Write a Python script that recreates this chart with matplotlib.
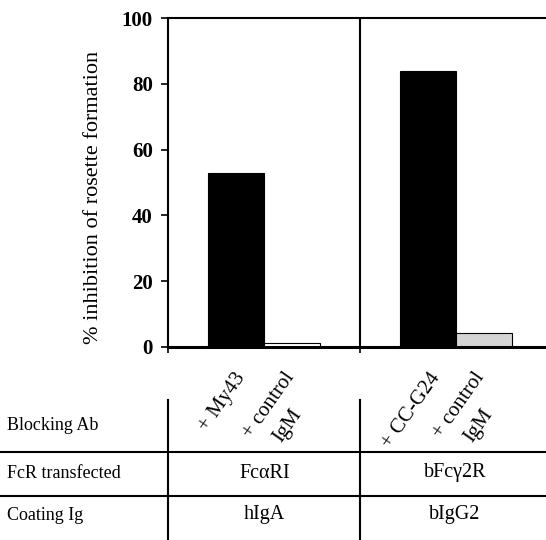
import matplotlib
matplotlib.use("Agg")
import matplotlib.pyplot as plt
from matplotlib.lines import Line2D

plt.rcParams['font.family'] = ['Liberation Serif', 'DejaVu Serif']

# data
bar_pos = [1.21, 2.21, 4.64, 5.64]
bar_vals = [53, 1.3, 84, 4.4]
bar_colors = ['black', 'white', 'black', '#d4d4d4']
blocking = ['+ My43', '+ control', '+ CC-G24', '+ control']
blocking2 = ['IgM', 'IgM']
fcr = ['FcαRI', 'bFcγ2R']
coating = ['hIgA', 'bIgG2']
row_names = ['Blocking Ab', 'FcR transfected', 'Coating Ig']

W, H = 546, 540
fig = plt.figure(figsize=(W / 100, H / 100), dpi=100)


def fx(x):
    return x / W


def fy(y):
    return 1 - y / H


ax = fig.add_axes([fx(168), fy(347), 1 - fx(168), fy(18) - fy(347)])
ax.bar(bar_pos, bar_vals, width=1.0, color=bar_colors, edgecolor='black',
       linewidth=0.8, align='center')
ax.set_xlim(0, 6.75)
ax.set_ylim(0, 100)
ax.axvline(3.43, color='black', lw=1.5)
ax.set_yticks([0, 20, 40, 60, 80, 100])
ax.set_xticks([0, 3.43])
ax.set_xticklabels([])
for lbl in ax.get_yticklabels():
    lbl.set_fontweight('bold')
    lbl.set_fontsize(15)
ax.tick_params(axis='y', direction='out', length=5, width=1.2, pad=6)
ax.tick_params(axis='x', direction='out', length=4, width=1.2)
ax.spines['right'].set_visible(False)
ax.spines['left'].set_linewidth(1.5)
ax.spines['top'].set_linewidth(1.5)
ax.spines['bottom'].set_linewidth(2.2)
ax.set_ylabel('% inhibition of rosette formation', fontsize=16)
ax.yaxis.set_label_coords(-0.172, 0.456)

# table lines
for y in [452, 496]:
    fig.add_artist(Line2D([0, 1], [fy(y), fy(y)], color='black', lw=1.5,
                          transform=fig.transFigure))
for x in [168, 360]:
    fig.add_artist(Line2D([fx(x), fx(x)], [fy(400), fy(540)], color='black',
                          lw=1.5, transform=fig.transFigure))

# row labels
for name, y in zip(row_names, [426, 473, 515]):
    fig.text(fx(7), fy(y), name, fontsize=13, va='center', ha='left')

# rotated blocking labels
starts = [(207, 432), (251, 439), (390, 449), (441, 439)]
for txt, (x, y) in zip(blocking, starts):
    fig.text(fx(x), fy(y), txt, fontsize=15, rotation=55,
             rotation_mode='anchor', ha='left', va='baseline')
for txt, (x, y) in zip(blocking2, [(281, 443), (472, 443)]):
    fig.text(fx(x), fy(y), txt, fontsize=15, rotation=55,
             rotation_mode='anchor', ha='left', va='baseline')

for txt, x in zip(fcr, [265, 455]):
    fig.text(fx(x), fy(473), txt, fontsize=14.5, ha='center', va='center')
for txt, x in zip(coating, [264, 455]):
    fig.text(fx(x), fy(515), txt, fontsize=14.5, ha='center', va='center')

fig.savefig('out.png', dpi=100)
